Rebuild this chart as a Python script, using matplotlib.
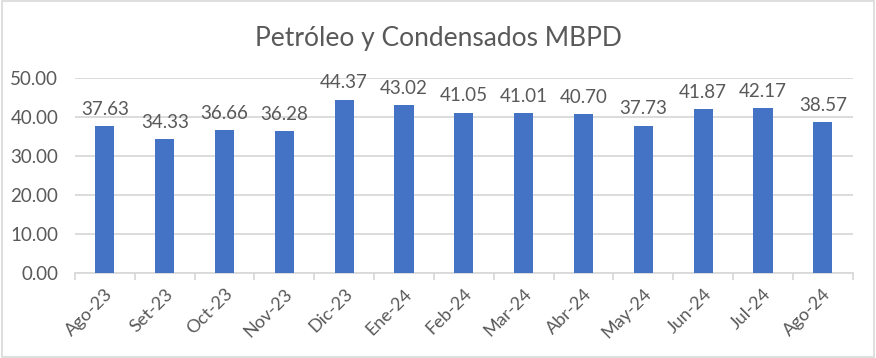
import numpy as np
import matplotlib.pyplot as plt
from matplotlib.patches import Rectangle

months = ["Ago-23", "Set-23", "Oct-23", "Nov-23", "Dic-23", "Ene-24", "Feb-24",
          "Mar-24", "Abr-24", "May-24", "Jun-24", "Jul-24", "Ago-24"]
values = [37.63, 34.33, 36.66, 36.28, 44.37, 43.02, 41.05,
          41.01, 40.70, 37.73, 41.87, 42.17, 38.57]

plt.rcParams['font.family'] = ['Lato', 'DejaVu Sans']
txt = '#595959'
grid = '#d9d9d9'

fig = plt.figure(figsize=(8.76, 3.58), dpi=100)
ax = fig.add_axes([0.0856, 0.2366, 0.8878, 0.5464])

xs = np.arange(len(months))
bars = ax.bar(xs, values, width=0.32, color='#4472c4', zorder=3)

for x, v in zip(xs, values):
    ax.annotate(f"{v:.2f}", (x, v), xytext=(0, 6), textcoords='offset points',
                ha='center', va='bottom', fontsize=13.5, color=txt)

ax.set_xlim(-0.5, len(months) - 0.5)
ax.set_ylim(0, 50)
ax.set_yticks(np.arange(0, 51, 10))
ax.set_yticklabels([f"{t:.2f}" for t in np.arange(0, 51, 10)], fontsize=13.5, color=txt)
ax.yaxis.grid(True, color=grid, linewidth=1.3, zorder=0)
ax.tick_params(axis='y', length=0, pad=12)

ax.set_xticks(xs)
ax.set_xticklabels(months, rotation=45, ha='right', rotation_mode='anchor',
                   fontsize=13, color=txt)
ax.tick_params(axis='x', length=0, pad=9)
# category boundary ticks
ax.set_xticks(np.arange(-0.5, len(months)), minor=True)
ax.tick_params(axis='x', which='minor', length=5, color=grid, width=1.3)

for s in ['top', 'right', 'left']:
    ax.spines[s].set_visible(False)
ax.spines['bottom'].set_color(grid)
ax.spines['bottom'].set_linewidth(1.3)

fig.text(0.5, 0.893, "Petróleo y Condensados MBPD", ha='center', va='center',
         fontsize=19, color=txt)

fig.patches.append(Rectangle((0.002, 0.003), 0.996, 0.994, transform=fig.transFigure,
                             fill=False, edgecolor=grid, linewidth=1.2))

fig.savefig('out.png', dpi=100)
